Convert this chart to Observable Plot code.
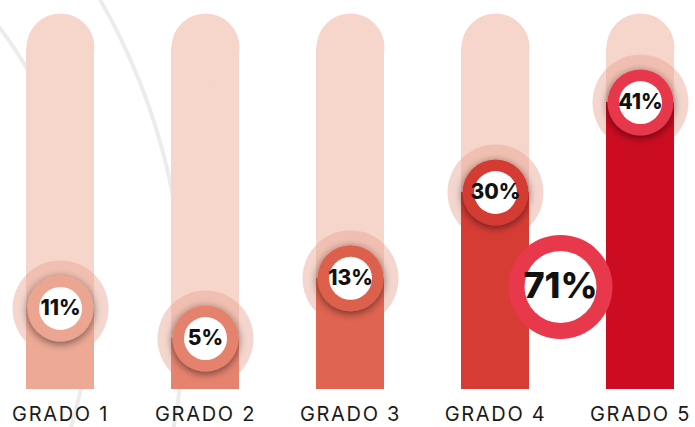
<!DOCTYPE html>
<html>
<head>
<meta charset="utf-8">
<script src="https://cdn.jsdelivr.net/npm/d3@7"></script>
<script src="https://cdn.jsdelivr.net/npm/@observablehq/plot@0.6"></script>
<style>
  html, body { margin: 0; padding: 0; background: #ffffff; }
  #chart { width: 695px; height: 427px; overflow: hidden; }
  g[aria-label^="x-axis"] text { letter-spacing: 1.7px; fill: #1a1a1a; font-weight: 400; }
</style>
</head>
<body>
<div id="chart"></div>
<svg width="0" height="0" style="position:absolute">
  <defs>
    <filter id="ringShadow" x="-50%" y="-50%" width="200%" height="200%">
      <feGaussianBlur in="SourceAlpha" stdDeviation="4.5" result="b"/>
      <feOffset in="b" dx="0" dy="2" result="o"/>
      <feComponentTransfer in="o" result="s"><feFuncA type="linear" slope="0.55"/></feComponentTransfer>
      <feMerge><feMergeNode in="s"/><feMergeNode in="SourceGraphic"/></feMerge>
    </filter>
  </defs>
</svg>
<script>
// ---- data ----
const grades = ["GRADO 1", "GRADO 2", "GRADO 3", "GRADO 4", "GRADO 5"];
const values = [11, 5, 13, 30, 41];                 // percent labels
const barLevels = [23.7, 14.9, 32.5, 57.6, 83.9];   // visual fill level of each track (% of track)
const fillColors = ["#eda995", "#e6836f", "#df6451", "#d63c34", "#cb0c21"];
const ringColors = ["#eba590", "#e5826e", "#dd614e", "#d43a32", "#e7394c"];
const totalLabel = ["71%"];
const totalLevel = [30];

const data = grades.map((g, i) => ({
  grade: g, value: values[i], level: barLevels[i], color: fillColors[i], ring: ringColors[i]
}));
const total = totalLabel.map((t, i) => ({ grade: "GRADO 4", label: t, level: totalLevel[i] }));

const track = "#f6d5cb";

const chart = Plot.plot({
  width: 695,
  height: 427,
  marginLeft: 4,
  marginRight: 0,
  marginTop: 47,
  marginBottom: 38,
  x: { domain: grades, paddingInner: 0.532, paddingOuter: 0.141, label: null, tickSize: 0, tickPadding: 17 },
  y: { domain: [0, 100], axis: null },
  style: { fontFamily: "Inter, 'Open Sans', sans-serif", fontSize: "20px", background: "white", overflow: "visible" },
  marks: [
    Plot.barY(data, { x: "grade", y1: 0, y2: 100, fill: track }),
    Plot.dot(data, { x: "grade", y: 100, r: 34, fill: track }),
    Plot.dot(data, { x: "grade", y: "level", r: 48, fill: "#e9a592", fillOpacity: 0.45 }),
    Plot.barY(data, { x: "grade", y1: 0, y2: "level", fill: "color" }),
    Plot.dot(data, { x: "grade", y: "level", r: 33, fill: "ring" }),
    Plot.dot(data, { x: "grade", y: "level", r: 21.5, fill: "white" }),
    Plot.text(data, { x: "grade", y: "level", text: d => d.value + "%", fontSize: 21, fontWeight: 800, fill: "#111111" }),
    Plot.dot(total, { x: "grade", y: "level", dx: 65, r: 52, fill: "#e8394c" }),
    Plot.dot(total, { x: "grade", y: "level", dx: 65, r: 36, fill: "white" }),
    Plot.text(total, { x: "grade", y: "level", dx: 65, text: "label", fontSize: 36, fontWeight: 800, fill: "#111111" })
  ]
});

// decoration: shadow on the rings and faint background arcs
const svg = d3.select(chart);
svg.selectAll("circle").filter(function () { return +this.getAttribute("r") === 33; })
  .style("filter", "url(#ringShadow)");

const firstG = chart.querySelector("g");
const deco = d3.select(chart.insertBefore(document.createElementNS("http://www.w3.org/2000/svg", "g"), firstG))
  .attr("fill", "none").attr("stroke", "#ececec").attr("stroke-width", 4);
deco.append("circle").attr("cx", -359).attr("cy", 298).attr("r", 449);
deco.append("circle").attr("cx", -446).attr("cy", 314).attr("r", 630);

document.getElementById("chart").appendChild(chart);
</script>
</body>
</html>
